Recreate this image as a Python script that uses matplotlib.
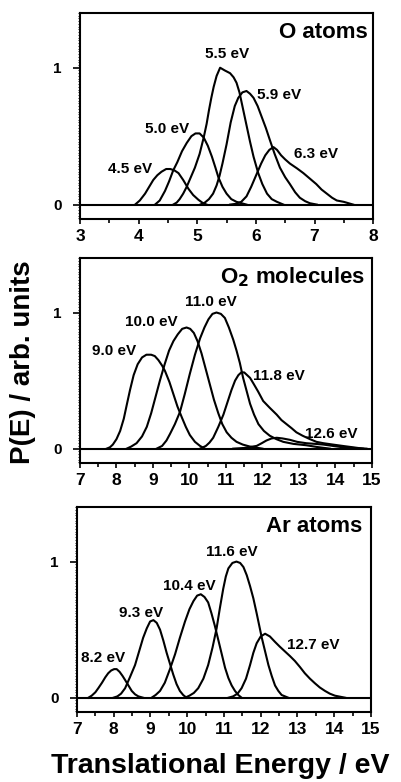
import numpy as np
import matplotlib.pyplot as plt
from matplotlib.ticker import MultipleLocator

plt.rcParams['font.family'] = ['Liberation Sans', 'DejaVu Sans']
plt.rcParams['font.weight'] = 'bold'

# ---- O atoms (top panel) ----
o45_e = [3.94, 4.02, 4.11, 4.18, 4.25, 4.32, 4.39, 4.47, 4.54, 4.61, 4.68, 4.76, 4.85, 4.93, 5.02, 5.10, 5.16]
o45_p = [0.00, 0.03, 0.08, 0.13, 0.18, 0.215, 0.24, 0.26, 0.26, 0.25, 0.23, 0.18, 0.115, 0.07, 0.035, 0.01, 0.00]
o50_e = [4.28, 4.36, 4.45, 4.52, 4.59, 4.66, 4.74, 4.82, 4.90, 4.97, 5.04, 5.11, 5.18, 5.25, 5.31, 5.36,
         5.43, 5.50, 5.58, 5.67, 5.84]
o50_p = [0.00, 0.03, 0.10, 0.17, 0.25, 0.31, 0.39, 0.45, 0.50, 0.52, 0.52, 0.49, 0.43, 0.35, 0.27, 0.20,
         0.13, 0.08, 0.04, 0.02, 0.00]
o55_e = [4.59, 4.65, 4.70, 4.76, 4.82, 4.89, 4.96, 5.04, 5.11, 5.16, 5.20, 5.24, 5.28, 5.33, 5.39, 5.47,
         5.56, 5.62, 5.67, 5.72, 5.76, 5.80, 5.84, 5.90, 5.96, 6.04, 6.11, 6.19, 6.27, 6.36, 6.47]
o55_p = [0.00, 0.015, 0.04, 0.08, 0.13, 0.20, 0.27, 0.37, 0.49, 0.59, 0.69, 0.78, 0.86, 0.94, 1.00, 0.98,
         0.96, 0.93, 0.89, 0.82, 0.74, 0.66, 0.58, 0.46, 0.35, 0.23, 0.15, 0.08, 0.04, 0.02, 0.00]
o59_e = [5.05, 5.13, 5.20, 5.27, 5.33, 5.38, 5.43, 5.50, 5.57, 5.64, 5.70, 5.77, 5.84, 5.90, 5.96, 6.03,
         6.10, 6.17, 6.24, 6.32, 6.41, 6.50, 6.58, 6.67, 6.75, 6.84, 6.92, 7.04]
o59_p = [0.00, 0.015, 0.04, 0.08, 0.14, 0.21, 0.30, 0.44, 0.60, 0.72, 0.78, 0.82, 0.83, 0.81, 0.78, 0.72,
         0.64, 0.56, 0.47, 0.37, 0.27, 0.20, 0.15, 0.09, 0.05, 0.025, 0.01, 0.00]
o63_e = [5.56, 5.65, 5.75, 5.84, 5.92, 6.01, 6.09, 6.16, 6.23, 6.30, 6.36, 6.43, 6.50, 6.58, 6.70, 6.81,
         6.92, 7.03, 7.12, 7.21, 7.30, 7.38, 7.50, 7.66]
o63_p = [0.00, 0.005, 0.02, 0.06, 0.13, 0.22, 0.30, 0.36, 0.40, 0.42, 0.40, 0.36, 0.33, 0.30, 0.265, 0.23,
         0.19, 0.15, 0.11, 0.08, 0.05, 0.03, 0.02, 0.00]

# ---- O2 molecules (middle panel) ----
m90_e = [7.73, 7.82, 7.90, 8.00, 8.10, 8.20, 8.28, 8.37, 8.47, 8.58, 8.70, 8.82, 8.95, 9.05, 9.15, 9.25,
         9.33, 9.45, 9.56, 9.67, 9.79, 9.90, 10.01, 10.15, 10.29, 10.42]
m90_p = [0.00, 0.01, 0.03, 0.07, 0.13, 0.22, 0.32, 0.43, 0.54, 0.62, 0.67, 0.69, 0.69, 0.68, 0.65, 0.61,
         0.57, 0.49, 0.40, 0.31, 0.23, 0.16, 0.10, 0.05, 0.02, 0.00]
m100_e = [8.28, 8.40, 8.55, 8.70, 8.83, 8.95, 9.07, 9.19, 9.32, 9.44, 9.56, 9.68, 9.80, 9.92, 10.02,
          10.12, 10.22, 10.33, 10.44, 10.56, 10.67, 10.79, 10.90, 11.02, 11.15, 11.29, 11.46, 11.66, 12.00]
m100_p = [0.00, 0.015, 0.04, 0.09, 0.16, 0.26, 0.38, 0.50, 0.62, 0.72, 0.79, 0.84, 0.88, 0.89, 0.88,
          0.85, 0.79, 0.70, 0.59, 0.47, 0.36, 0.26, 0.18, 0.12, 0.08, 0.05, 0.03, 0.015, 0.00]
m110_e = [9.10, 9.25, 9.37, 9.47, 9.60, 9.74, 9.87, 10.01, 10.15, 10.29, 10.41, 10.52, 10.63, 10.74,
          10.86, 10.97, 11.08, 11.20, 11.29, 11.38, 11.47, 11.57, 11.66, 11.77, 11.89, 12.04, 12.20,
          12.38, 12.57, 12.85, 13.20, 13.50, 13.85]
m110_p = [0.00, 0.02, 0.06, 0.11, 0.18, 0.27, 0.40, 0.55, 0.69, 0.81, 0.89, 0.95, 0.99, 1.00,
          0.99, 0.96, 0.89, 0.80, 0.72, 0.63, 0.52, 0.42, 0.33, 0.25, 0.18, 0.13, 0.095,
          0.07, 0.05, 0.035, 0.025, 0.012, 0.00]
m118_e = [10.29, 10.45, 10.55, 10.65, 10.79, 10.93, 11.04, 11.15, 11.25, 11.34, 11.42, 11.50, 11.58,
          11.66, 11.75, 11.88, 12.02, 12.20, 12.39, 12.52, 12.66, 12.80, 12.93, 13.10, 13.30, 13.48,
          13.67, 13.93, 14.20, 14.76]
m118_p = [0.00, 0.02, 0.045, 0.08, 0.16, 0.25, 0.34, 0.43, 0.50, 0.54, 0.56, 0.56, 0.54,
          0.52, 0.48, 0.42, 0.35, 0.30, 0.25, 0.21, 0.18, 0.15, 0.12, 0.095, 0.07, 0.05,
          0.04, 0.03, 0.02, 0.00]
m126_e = [11.20, 11.50, 11.84, 11.98, 12.11, 12.25, 12.39, 12.55, 12.75, 12.95, 13.20, 13.45, 13.67,
          13.93, 14.20, 14.50, 14.85]
m126_p = [0.00, 0.005, 0.02, 0.04, 0.06, 0.075, 0.08, 0.075, 0.065, 0.05, 0.04, 0.035, 0.03,
          0.02, 0.01, 0.005, 0.00]

# ---- Ar atoms (bottom panel) ----
a82_e = [7.31, 7.40, 7.50, 7.58, 7.68, 7.77, 7.85, 7.93, 8.01, 8.08, 8.16, 8.24, 8.31, 8.40, 8.49, 8.58,
         8.67, 8.80]
a82_p = [0.00, 0.015, 0.04, 0.07, 0.11, 0.15, 0.18, 0.20, 0.21, 0.21, 0.19, 0.16, 0.13, 0.09, 0.05, 0.025,
         0.01, 0.00]
a93_e = [7.99, 8.10, 8.20, 8.31, 8.44, 8.58, 8.69, 8.80, 8.90, 8.99, 9.08, 9.17, 9.26, 9.35, 9.44, 9.53,
         9.62, 9.71, 9.80, 9.89, 9.98]
a93_p = [0.00, 0.01, 0.03, 0.07, 0.15, 0.24, 0.34, 0.44, 0.51, 0.56, 0.57, 0.55, 0.50, 0.42, 0.33, 0.25,
         0.17, 0.10, 0.05, 0.02, 0.00]
a104_e = [9.03, 9.14, 9.26, 9.39, 9.53, 9.67, 9.80, 9.94, 10.06, 10.17, 10.27, 10.37, 10.47, 10.57,
          10.66, 10.75, 10.85, 10.94, 11.03, 11.12, 11.21, 11.30, 11.39, 11.48]
a104_p = [0.00, 0.02, 0.05, 0.11, 0.21, 0.32, 0.44, 0.56, 0.65, 0.71, 0.75, 0.76, 0.74, 0.70,
          0.62, 0.53, 0.42, 0.32, 0.22, 0.145, 0.09, 0.05, 0.02, 0.00]
a116_e = [9.94, 10.06, 10.18, 10.30, 10.44, 10.57, 10.69, 10.80, 10.89, 10.98, 11.05, 11.12, 11.23,
          11.34, 11.44, 11.53, 11.62, 11.71, 11.80, 11.89, 11.96, 12.03, 12.12, 12.21, 12.30, 12.39,
          12.48, 12.57, 12.75]
a116_p = [0.00, 0.015, 0.035, 0.07, 0.14, 0.24, 0.37, 0.51, 0.66, 0.80, 0.89, 0.95, 0.99,
          1.00, 0.99, 0.96, 0.90, 0.82, 0.73, 0.62, 0.53, 0.44, 0.34, 0.24, 0.16, 0.09,
          0.05, 0.02, 0.00]
a127_e = [11.12, 11.25, 11.37, 11.48, 11.60, 11.71, 11.80, 11.89, 12.00, 12.12, 12.25, 12.39, 12.52,
          12.66, 12.80, 12.93, 13.07, 13.20, 13.34, 13.48, 13.61, 13.75, 13.88, 14.02, 14.30]
a127_p = [0.00, 0.01, 0.03, 0.07, 0.14, 0.24, 0.33, 0.40, 0.45, 0.47, 0.45, 0.41, 0.375,
          0.34, 0.305, 0.27, 0.225, 0.18, 0.14, 0.105, 0.075, 0.05, 0.03, 0.015, 0.00]

o_curves = [(o45_e, o45_p), (o50_e, o50_p), (o55_e, o55_p), (o59_e, o59_p), (o63_e, o63_p)]
m_curves = [(m90_e, m90_p), (m100_e, m100_p), (m110_e, m110_p), (m118_e, m118_p), (m126_e, m126_p)]
a_curves = [(a82_e, a82_p), (a93_e, a93_p), (a104_e, a104_p), (a116_e, a116_p), (a127_e, a127_p)]

o_labels = ['4.5 eV', '5.0 eV', '5.5 eV', '5.9 eV', '6.3 eV']
o_label_xy = [(3.85, 0.26), (4.48, 0.55), (5.51, 1.10), (6.40, 0.80), (7.03, 0.37)]
m_labels = ['9.0 eV', '10.0 eV', '11.0 eV', '11.8 eV', '12.6 eV']
m_label_xy = [(7.93, 0.72), (8.95, 0.93), (10.59, 1.08), (12.45, 0.53), (13.88, 0.11)]
a_labels = ['8.2 eV', '9.3 eV', '10.4 eV', '11.6 eV', '12.7 eV']
a_label_xy = [(7.72, 0.29), (8.74, 0.62), (10.05, 0.82), (11.22, 1.07), (13.42, 0.39)]

fig = plt.figure(figsize=(4.01, 7.82), dpi=100)
ax1 = fig.add_axes([0.1995, 0.720, 0.731, 0.2634])
ax2 = fig.add_axes([0.1995, 0.408, 0.728, 0.262])
ax3 = fig.add_axes([0.192, 0.0895, 0.733, 0.262])

panels = [
    (ax1, o_curves, o_labels, o_label_xy, (3, 8), 'O atoms', 7.9),
    (ax2, m_curves, m_labels, m_label_xy, (7, 15), r'O$_\mathbf{2}$ molecules', 14.8),
    (ax3, a_curves, a_labels, a_label_xy, (7, 15), 'Ar atoms', 14.76),
]

for ax, curves, labels, label_xy, xlim, title, title_x in panels:
    for e, p in curves:
        ax.plot(e, p, color='black', lw=1.5, solid_joinstyle='round')
    ax.axhline(0, color='black', lw=1.5)
    for lab, (x, y) in zip(labels, label_xy):
        ax.text(x, y, lab, ha='center', va='center', fontsize=11, fontweight='bold')
    ax.text(title_x, 1.26, title, ha='right', va='center', fontsize=16, fontweight='bold')
    ax.set_xlim(*xlim)
    ax.set_ylim(-0.105, 1.40)
    ax.set_yticks([0, 1])
    ax.set_yticklabels(['0', '1'])
    ax.xaxis.set_major_locator(MultipleLocator(1))
    ax.xaxis.set_minor_locator(MultipleLocator(0.5))
    ax.yaxis.set_minor_locator(MultipleLocator(0.02))
    ax.tick_params(axis='x', which='major', direction='out', length=3.5, width=1.2,
                   labelsize=12.5, pad=4)
    ax.tick_params(axis='x', which='minor', direction='out', length=3, width=1.2)
    ax.tick_params(axis='y', which='major', direction='out', length=5, width=1.2,
                   labelsize=11, pad=8)
    ax.tick_params(axis='y', which='minor', direction='out', length=1.5, width=0.6)
    for lab in ax.get_xticklabels() + ax.get_yticklabels():
        lab.set_fontweight('bold')
    for sp in ax.spines.values():
        sp.set_linewidth(1.5)

fig.text(0.057, 0.537, 'P(E) / arb. units', rotation=90, ha='center', va='center',
         fontsize=20, fontweight='bold')
fig.text(0.55, 0.0205, 'Translational Energy / eV', ha='center', va='center',
         fontsize=20.5, fontweight='bold')

fig.savefig('out.png', dpi=100)
